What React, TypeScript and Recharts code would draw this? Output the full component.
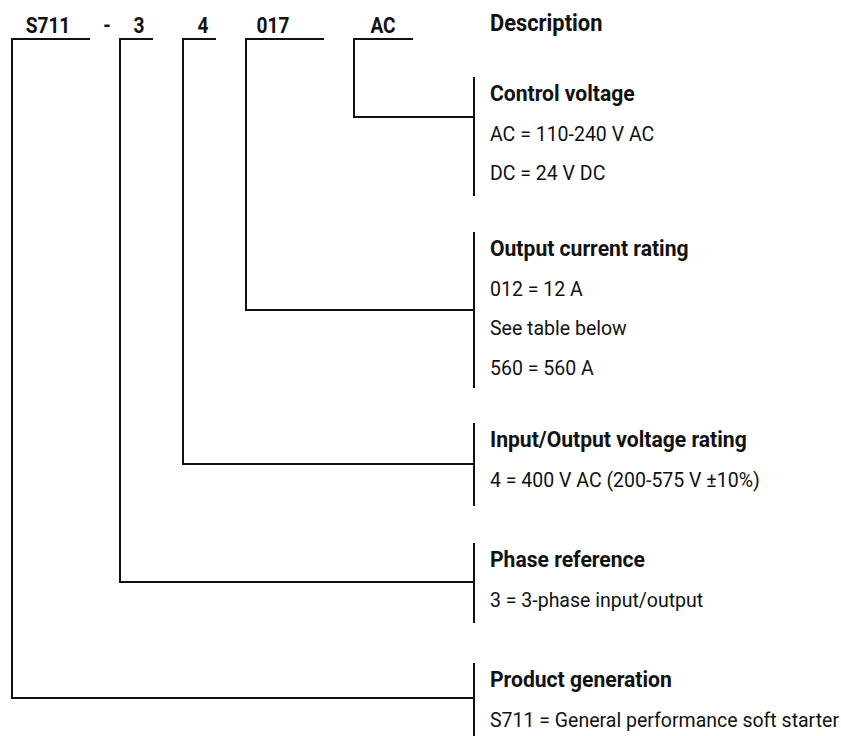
import React from "react";
import { ComposedChart, Scatter, XAxis, YAxis } from "recharts";

// catalog number segments, left to right
const codeLabels = ["S711", "-", "3", "4", "017", "AC"];
const headerLabel = "Description";

// description blocks, top to bottom
const sectionTitles = [
  "Control voltage",
  "Output current rating",
  "Input/Output voltage rating",
  "Phase reference",
  "Product generation",
];
const sectionLines = [
  ["AC = 110-240 V AC", "DC = 24 V DC"],
  ["012 = 12 A", "See table below", "560 = 560 A"],
  ["4 = 400 V AC (200-575 V ±10%)"],
  ["3 = 3-phase input/output"],
  ["S711 = General performance soft starter"],
];
// which description block each code segment points to (-1 = none)
const codeSection = [4, -1, 3, 2, 1, 0];

// ---- layout (diagram units = pixels) ----
const W = 841;
const H = 736;
const codeTextX = [48, 107, 139, 203, 273, 383];
const codeTextY = 33;
const bracketLeft = [12, 0, 120, 183, 246, 354];
const bracketRight = [89, 0, 152, 215, 323, 412];
const bracketTop = 39;
const descX = 474;
const textX = 490;
const headerY = 31;
const titleY = [101, 256, 447, 567, 687];
const connectorY = [117, 310, 464, 582, 698];
const barBottom = [195, 387, 505, 622, 736];
const lineGap = 39.5;

const STROKE = { stroke: "#111", strokeWidth: 2, strokeLinecap: "square" as const };

const styles: Record<string, any> = {
  code: { size: 22.5, weight: 700, sx: 0.85, anchor: "middle" },
  header: { size: 23, weight: 700, sx: 0.95, anchor: "start" },
  title: { size: 22, weight: 700, sx: 0.96, anchor: "start" },
  body: { size: 19.5, weight: 400, sx: 1, anchor: "start" },
};

const TextShape = (props: any) => {
  const { cx, cy, payload } = props;
  if (cx == null || cy == null) return <g />;
  const s = styles[payload.kind];
  return (
    <text
      transform={`translate(${cx},${cy}) scale(${s.sx},1)`}
      x={0}
      y={0}
      textAnchor={s.anchor}
      fontFamily="Roboto, 'Liberation Sans', sans-serif"
      fontSize={s.size}
      fontWeight={s.weight}
      fill="#111"
    >
      {payload.text}
    </text>
  );
};

const NoDot = () => <g />;

// text points
const textPoints: any[] = [];
codeLabels.forEach((t, i) => textPoints.push({ x: codeTextX[i], y: codeTextY, text: t, kind: "code" }));
textPoints.push({ x: textX, y: headerY, text: headerLabel, kind: "header" });
sectionTitles.forEach((t, i) => {
  textPoints.push({ x: textX, y: titleY[i], text: t, kind: "title" });
  sectionLines[i].forEach((l, j) =>
    textPoints.push({ x: textX, y: titleY[i] + lineGap * (j + 1), text: l, kind: "body" })
  );
});

// bracket polylines from code segment to description bar
const brackets = codeLabels
  .map((_, i) => {
    const sec = codeSection[i];
    if (sec < 0) return null;
    return [
      { x: bracketRight[i], y: bracketTop },
      { x: bracketLeft[i], y: bracketTop },
      { x: bracketLeft[i], y: connectorY[sec] },
      { x: descX, y: connectorY[sec] },
    ];
  })
  .filter(Boolean) as { x: number; y: number }[][];

const bars = sectionTitles.map((_, i) => [
  { x: descX, y: titleY[i] - 23 },
  { x: descX, y: barBottom[i] },
]);

export default function App() {
  return (
    <div style={{ position: "absolute", left: 0, top: 0, width: W, height: H, background: "#fff" }}>
      <ComposedChart width={W} height={H} margin={{ top: 0, right: 0, bottom: 0, left: 0 }}>
        <XAxis dataKey="x" type="number" domain={[0, W]} allowDataOverflow hide />
        <YAxis dataKey="y" type="number" domain={[0, H]} allowDataOverflow reversed hide />
        {brackets.map((pts, i) => (
          <Scatter
            key={`b${i}`}
            data={pts}
            line={STROKE}
            shape={NoDot}
            legendType="none"
            isAnimationActive={false}
          />
        ))}
        {bars.map((pts, i) => (
          <Scatter
            key={`v${i}`}
            data={pts}
            line={STROKE}
            shape={NoDot}
            legendType="none"
            isAnimationActive={false}
          />
        ))}
        <Scatter data={textPoints} shape={TextShape} legendType="none" isAnimationActive={false} />
      </ComposedChart>
    </div>
  );
}
